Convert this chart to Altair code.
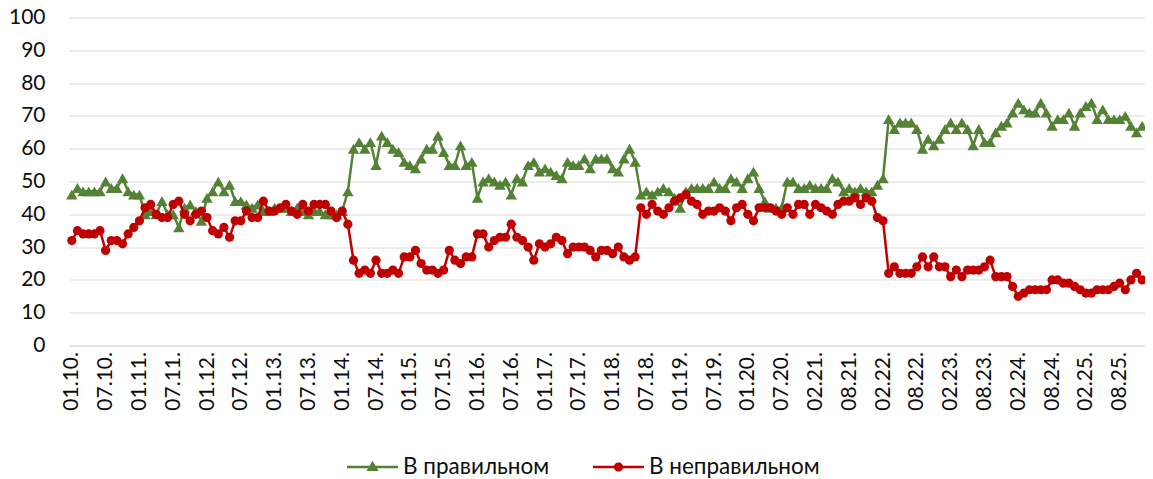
import json
import altair as alt
import pandas as pd

SERIES = ["В правильном", "В неправильном"]
COLORS = ["#548235", "#C00000"]

TICK_LABELS = [
    "01.10.", "07.10.", "01.11.", "07.11.", "01.12.", "07.12.", "01.13.", "07.13.",
    "01.14.", "07.14.", "01.15.", "07.15.", "01.16.", "07.16.", "01.17.", "07.17.",
    "01.18.", "07.18.", "01.19.", "07.19.", "01.20.", "07.20.", "02.21.", "08.21.",
    "02.22.", "08.22.", "02.23.", "08.23.", "02.24.", "08.24.", "02.25.", "08.25.",
]

GREEN = [
    46, 48, 47, 47, 47, 47, 50, 48, 48, 51, 47, 46, 46,
    40, 41, 40, 44, 40, 40, 36, 42, 43, 41, 38, 45, 47, 50, 47, 49, 44, 44, 43,
    42, 43, 41, 41, 42, 42, 42, 41, 42, 41, 40, 41, 41, 40, 40, 40, 41, 47,
    60, 62, 60, 62, 55, 64, 62, 60, 59, 56, 55, 54, 57, 60, 60, 64, 59, 55, 55, 61, 55, 56, 45,
    50, 51, 50, 49, 50, 46, 51, 50, 55, 56, 53, 54, 53, 52, 51, 56, 55, 55, 57, 54, 57,
    57, 57, 54, 53, 57, 60, 56,
    46, 47, 46, 47, 48, 47, 45, 42, 47, 48, 48, 48, 48, 50, 48, 48,
    51, 50, 48, 51, 53, 48, 44, 42, 42, 42, 50,
    50, 48, 48, 49, 48, 48, 48, 51, 50, 47, 48, 47, 48, 47,
    47, 49, 51,
    69, 66, 68, 68, 68, 66, 60, 63, 61, 63, 66, 68, 66, 68, 66, 61, 66, 62, 62, 65, 67,
    68, 71, 74, 72, 71, 71, 74, 71, 67, 69, 69, 71, 67, 71, 73, 74, 69, 72, 69, 69, 69, 70, 67, 65, 67,
]

RED = [
    32, 35, 34, 34, 34, 35, 29, 32, 32, 31, 34, 36, 38,
    42, 43, 40, 39, 39, 43, 44, 40,
    38, 40, 41, 39, 35, 34, 36, 33, 38, 38, 41, 39, 39,
    44, 41, 41, 42, 43, 41, 40, 43, 41, 43, 43,
    43, 41, 39, 41, 37,
    26, 22, 23, 22, 26, 22, 22, 23, 22, 27, 27, 29, 25, 23, 23, 22, 23, 29, 26, 25, 27,
    27, 34, 34, 30, 32, 33, 33, 37, 33, 32, 30, 26, 31, 30, 31, 33, 32, 28, 30, 30, 30, 29, 27,
    29, 29, 28, 30, 27, 26, 27,
    42, 40, 43, 41, 40, 42, 44, 45, 46, 44, 43, 40, 41, 41, 42, 41,
    38, 42, 43, 40, 38, 42, 42, 42, 41, 40, 42, 40, 43, 43, 40, 43, 42, 41, 40, 43, 44, 44, 45, 43, 45,
    44, 39, 38,
    22, 24, 22, 22, 22, 24, 27, 24, 27, 24, 24, 21, 23, 21, 23, 23, 23, 24, 26, 21, 21,
    21, 18, 15, 16, 17, 17, 17, 17, 20, 20, 19, 19, 18, 17, 16, 16, 17, 17, 17, 18, 19, 17, 20, 22, 20,
]

rows = []
for name, vals in zip(SERIES, [GREEN, RED]):
    for i, v in enumerate(vals):
        rows.append({"idx": i, "series": name, "value": v})
df = pd.DataFrame(rows)

FONT = "Lato"
TXT = "#0d0d0d"
GRID = "#d9d9d9"

label_expr = json.dumps(TICK_LABELS, ensure_ascii=False) + "[round(datum.value / 6)]"

x_enc = alt.X(
    "idx:O",
    scale=alt.Scale(padding=0.5),
    axis=alt.Axis(
        values=list(range(0, len(GREEN), 6)),
        labelExpr=label_expr,
        labelAngle=-90,
        title=None,
        ticks=False,
        grid=False,
        domainColor=GRID,
        domainWidth=1,
        labelPadding=6,
        labelFont=FONT,
        labelFontSize=21,
        labelColor=TXT,
    ),
)
y_enc = alt.Y(
    "value:Q",
    scale=alt.Scale(domain=[0, 100], nice=False),
    axis=alt.Axis(
        values=list(range(0, 101, 10)),
        title=None,
        domain=False,
        ticks=False,
        grid=True,
        gridColor=GRID,
        gridWidth=1,
        labelPadding=24,
        labelFont=FONT,
        labelFontSize=21,
        labelColor=TXT,
    ),
)

layers = []
marker_shapes = ["triangle-up", "circle"]
marker_sizes = [130, 85]
for name, col, shp, sz in zip(SERIES, COLORS, marker_shapes, marker_sizes):
    sub = alt.Chart(df).transform_filter(alt.datum.series == name)
    layers.append(sub.mark_line(strokeWidth=2.5, color=col).encode(x=x_enc, y=y_enc))
    layers.append(
        sub.mark_point(filled=True, opacity=1, color=col, shape=shp, size=sz, strokeWidth=0)
        .encode(x=x_enc, y=y_enc)
    )

TRI_PATH = "M-1,-0.05H1V0.05H-1Z M0,-0.25L0.24,0.16L-0.24,0.16Z"
CIRC_PATH = "M-1,-0.05H1V0.05H-1Z M0.18,0A0.18,0.18 0 1,1 -0.18,0A0.18,0.18 0 1,1 0.18,0Z"

leg = alt.Legend(
    orient="none",
    legendX=278,
    legendY=424,
    direction="horizontal",
    title=None,
    labelFont=FONT,
    labelFontSize=22.5,
    labelColor=TXT,
    symbolSize=2601,
    symbolStrokeWidth=0,
    labelOffset=5,
    columnPadding=43,
    labelLimit=400,
)
legend_layer = (
    alt.Chart(df)
    .transform_filter("datum.idx < 0")
    .mark_point(filled=True, opacity=1)
    .encode(
        color=alt.Color("series:N", scale=alt.Scale(domain=SERIES, range=COLORS), legend=leg),
        shape=alt.Shape("series:N", scale=alt.Scale(domain=SERIES, range=[TRI_PATH, CIRC_PATH]), legend=leg),
    )
)
layers.append(legend_layer)

chart = (
    alt.layer(*layers)
    .properties(
        width=1076,
        height=328,
        padding={"left": 61, "top": 9.5, "right": 0, "bottom": 133.5},
        autosize=alt.AutoSizeParams(type="none"),
        background="white",
    )
    .configure_view(stroke=None)
)

chart.save("out.html", embed_options={"renderer": "svg", "actions": False})
